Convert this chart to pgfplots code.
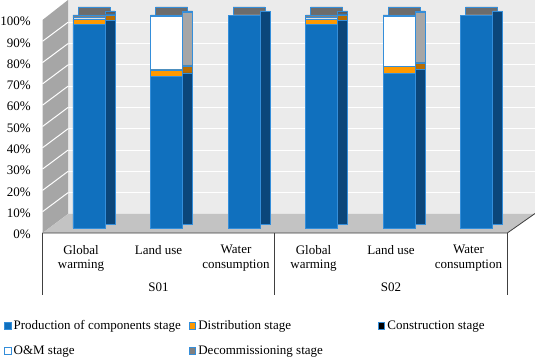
\documentclass[border=0pt]{standalone}
\usepackage{pgfplots}
\usepackage{pgfplotstable}
\pgfplotsset{compat=1.18}
\usepackage{fontspec}
\setmainfont{Liberation Serif}
\definecolor{prodblue}{RGB}{16,112,190}
\definecolor{prodside}{RGB}{11,70,122}
\definecolor{distor}{RGB}{255,153,0}
\definecolor{distside}{RGB}{184,108,0}
\definecolor{decomgray}{RGB}{128,128,128}
\definecolor{decomside}{RGB}{90,90,90}
\definecolor{omside}{RGB}{166,166,166}
\definecolor{topgray}{RGB}{108,108,108}
\definecolor{barline}{RGB}{52,142,218}
\definecolor{backwall}{RGB}{235,235,235}
\definecolor{leftwall}{RGB}{166,166,166}
\definecolor{floorgray}{RGB}{195,195,195}
\definecolor{axisline}{RGB}{64,64,64}
\newcommand{\chartfont}{\fontsize{13}{14.5}\selectfont}
\pgfplotsset{sqlegend/.style={legend image code/.code={\draw[##1,line width=0.6pt] (0pt,-3.2pt) rectangle (6.4pt,3.2pt);}}}

\pgfplotstableread{
x prod dist cons om decom total
0 95.6 2.4 0.2 0.5 1.3 100
1 71.0 3.2 0.1 25.2 0.5 100
2 99.8 0.1 0.0 0.1 0.0 100
3 95.7 2.3 0.2 0.5 1.3 100
4 72.6 3.1 0.1 23.6 0.6 100
5 99.8 0.1 0.0 0.1 0.0 100
}\datatable

\begin{document}
\begin{tikzpicture}
\useasboundingbox (0,0) rectangle (535pt,359pt);
% back wall
\fill[backwall] (68pt,145pt) rectangle (535pt,359pt);
\foreach \k in {1,...,9} {
  \draw[white, line width=1pt] (68pt,{145pt+21.3pt*\k}) -- (535pt,{145pt+21.3pt*\k});
}
% left wall
\fill[leftwall] (42.5pt,126pt) -- (68pt,145pt) -- (68pt,359pt) -- (42.5pt,339pt) -- cycle;
\foreach \k in {1,...,9} {
  \draw[white, line width=1pt] (42.5pt,{126pt+21.3pt*\k}) -- (68pt,{145pt+21.3pt*\k});
}
% floor
\fill[floorgray] (42.5pt,126pt) -- (507.3pt,126pt) -- (535pt,145pt) -- (68pt,145pt) -- cycle;
% category axis
\draw[axisline, line width=0.8pt] (42.3pt,126pt) -- (507.3pt,126pt) -- (535pt,145.5pt);
\draw[axisline, line width=0.8pt] (42.3pt,126pt) -- (42.3pt,64pt);
\draw[axisline, line width=0.8pt] (274.3pt,126pt) -- (274.3pt,64pt);
\draw[axisline, line width=0.8pt] (507.3pt,126pt) -- (507.3pt,64pt);
\node[font=\chartfont] at (158.5pt,71.3pt) {S01};
\node[font=\chartfont] at (391pt,71.3pt) {S02};

% top faces
\begin{axis}[
  at={(55.25pt,139pt)}, anchor=south west,
  scale only axis, width=465pt, height=213pt,
  xmin=-0.5, xmax=5.5, ymin=0, ymax=100,
  hide axis, ybar, bar width=32pt, bar shift=0pt,
]
\addplot[fill=topgray, draw=barline, line width=0.6pt] table[x=x,y=total]{\datatable};
\end{axis}

% side faces
\begin{axis}[
  at={(71.25pt,135pt)}, anchor=south west,
  scale only axis, width=465pt, height=213pt,
  xmin=-0.5, xmax=5.5, ymin=0, ymax=100,
  hide axis, ybar stacked, bar width=10pt,
]
\addplot[fill=prodside, draw=barline, line width=0.5pt] table[x=x,y=prod]{\datatable};
\addplot[fill=distside, draw=barline, line width=0.5pt] table[x=x,y=dist]{\datatable};
\addplot[fill=black, draw=barline, line width=0.5pt] table[x=x,y=cons]{\datatable};
\addplot[fill=omside, draw=barline, line width=0.5pt] table[x=x,y=om]{\datatable};
\addplot[fill=decomside, draw=barline, line width=0.5pt] table[x=x,y=decom]{\datatable};
\end{axis}

% front faces
\begin{axis}[
  at={(50.25pt,131pt)}, anchor=south west,
  scale only axis, width=465pt, height=213pt,
  xmin=-0.5, xmax=5.5, ymin=0, ymax=100,
  ybar stacked, bar width=32pt,
  axis line style={draw=none},
  major tick length=0pt,
  tick style={draw=none},
  ytick={0,10,...,100},
  yticklabel={\pgfmathprintnumber{\tick}\%},
  /pgf/number format/assume math mode=true,
  yticklabel style={anchor=east, inner sep=0pt, xshift=-19.25pt, yshift=-6.5pt},
  xtick={0,1,2,3,4,5},
  xticklabels={{Global\\warming},{Land use},{Water\\consumption},{Global\\warming},{Land use},{Water\\consumption}},
  xticklabel style={align=center, anchor=north, inner sep=0pt, xshift=-8pt, yshift=-17pt},
  tick label style={font=\chartfont},
  clip=false,
  legend columns=3,
  legend cell align=left,
  legend style={at={(axis description cs:-0.0995,-0.4338)}, anchor=north west,
    draw=none, fill=none, inner sep=0pt, font=\chartfont,
    nodes={inner sep=0pt},
    row sep=14.3pt,
    /tikz/every odd column/.append style={column sep=2.5pt},
    /tikz/column 2/.style={column sep=8pt},
    /tikz/column 4/.style={column sep=55pt}},
]
\addplot[fill=prodblue, draw=barline, line width=0.6pt, sqlegend] table[x=x,y=prod]{\datatable};
\addlegendentry{Production of components stage}
\addplot[fill=distor, draw=barline, line width=0.6pt, sqlegend] table[x=x,y=dist]{\datatable};
\addlegendentry{Distribution stage}
\addplot[fill=black, draw=barline, line width=0.6pt, sqlegend] table[x=x,y=cons]{\datatable};
\addlegendentry{Construction stage}
\addplot[fill=white, draw=barline, line width=0.6pt, sqlegend] table[x=x,y=om]{\datatable};
\addlegendentry{O\&M stage}
\addplot[fill=decomgray, draw=barline, line width=0.6pt, sqlegend] table[x=x,y=decom]{\datatable};
\addlegendentry{Decommissioning stage}
\end{axis}
\end{tikzpicture}
\end{document}
